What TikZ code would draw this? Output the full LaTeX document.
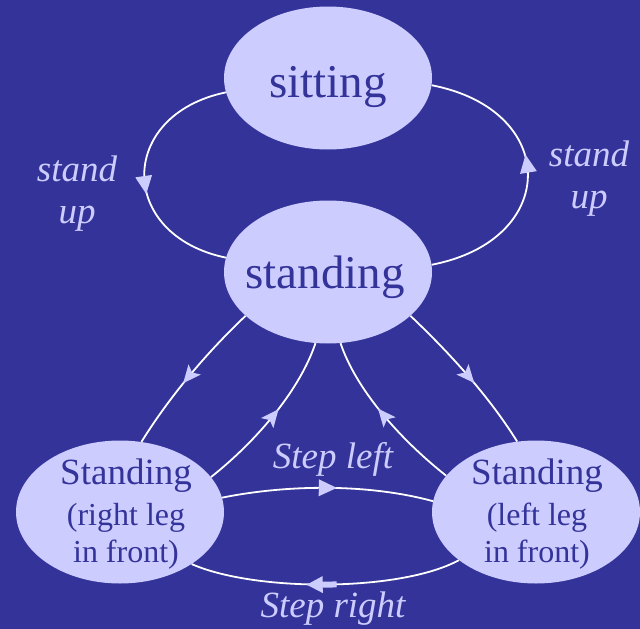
\documentclass[tikz,border=0pt]{standalone}
\usepackage{fontspec}
\setmainfont{Liberation Serif}
\usetikzlibrary{shapes.geometric,decorations.markings}
\definecolor{bgblue}{RGB}{51,51,153}
\definecolor{lav}{RGB}{204,204,255}
\begin{document}
\begin{tikzpicture}[x=1pt,y=-1pt,
  state/.style={ellipse, fill=lav, minimum width=208pt, minimum height=143pt, inner sep=0pt},
  big/.style={text=bgblue, font=\fontsize{47}{50}\selectfont, anchor=base, inner sep=0pt},
  small/.style={text=bgblue, font=\fontsize{37}{39}\selectfont, anchor=base, inner sep=0pt, align=center},
  smaller/.style={text=bgblue, font=\fontsize{32}{37}\selectfont, anchor=base, inner sep=0pt, align=center},
  lbl/.style={text=lav, font=\fontsize{37}{42}\selectfont\itshape, anchor=base, inner sep=0pt, align=center},
  conn/.style={draw=white, line width=1.8pt},
  tri/.style={postaction={decorate}, decoration={markings, mark=at position #1 with {\fill[lav] (9pt,0pt) -- (-9pt,8.5pt) -- (-9pt,-8.5pt) -- cycle;}}},
  stl/.style={postaction={decorate}, decoration={markings, mark=at position #1 with {\fill[lav] (10pt,0pt) -- (-8pt,8pt) -- (-4pt,0pt) -- (-8pt,-8pt) -- cycle;}}},
  blk/.style={postaction={decorate}, decoration={markings, mark=at position #1 with {\fill[lav] (19pt,0pt) -- (3pt,8.5pt) -- (3pt,-8.5pt) -- cycle; \fill[lav] (4pt,3pt) rectangle (-11pt,-3pt);}}}
]
\fill[bgblue] (0,0) rectangle (640,629);
\useasboundingbox (0,0) rectangle (640,629);

\node[state] (sitting) at (328,78) {};
\node[state] (standing) at (328,272) {};
\node[state] (rleft) at (120,512) {};
\node[state] (lright) at (536,512) {};

\node[big] (sittingtxt) at (328,97) {sitting};
\node[big] (standingtxt) at (325,288) {standing};
\node[small] (rlefttxt) at (126,484) {Standing};
\node[smaller] (rleftsub) at (126,562) {(right leg\\in front)};
\node[small] (lrighttxt) at (537,484) {Standing};
\node[smaller] (lrightsub) at (537,562) {(left leg\\in front)};

\node[lbl] (upleft) at (77,223) {stand\\up};
\node[lbl] (upright) at (589,208) {stand\\up};
\node[lbl] (stepleft) at (333,468) {Step left};
\node[lbl] (stepright) at (333,617) {Step right};

\draw[conn, tri=0.54] (sitting.188) .. controls (117,115) and (117,235) .. (standing.172);
\draw[conn, tri=0.54] (standing.4) .. controls (560,240) and (560,110) .. (sitting.356);

\draw[conn, stl=0.5] (standing.208) .. controls +(-40,38) and +(28,-45) .. (rleft.73);
\draw[conn, stl=0.5] (rleft.21) .. controls +(48,-38) and +(-15,45) .. (standing.260);
\draw[conn, stl=0.5] (lright.158) .. controls +(-48,-38) and +(15,45) .. (standing.280);
\draw[conn, stl=0.5] (standing.332) .. controls +(40,38) and +(-28,-45) .. (lright.105);

\draw[conn, tri=0.5] (rleft.8) .. controls (290,484) and (370,484) .. (lright.174);
\draw[conn, blk=0.5] (lright.212) .. controls (400,592) and (255,592) .. (rleft.324);
\end{tikzpicture}
\end{document}
